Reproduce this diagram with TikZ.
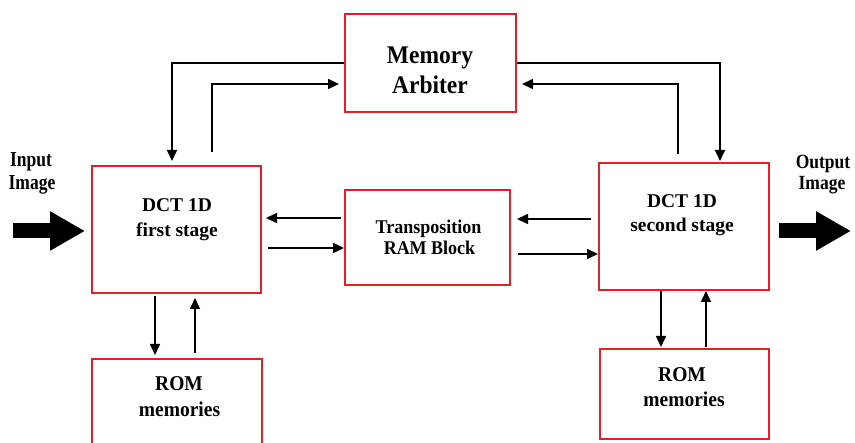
\documentclass[tikz,border=0pt]{standalone}
\usepackage{graphicx}
\usepackage{fontspec}
\setmainfont{Liberation Serif}
\usetikzlibrary{arrows.meta}
\definecolor{boxred}{RGB}{228,32,38}
\newcommand{\vstr}[2]{\scalebox{1}[#1]{#2}}
\begin{document}
\begin{tikzpicture}[x=1pt,y=-1pt,
  blk/.style={draw=boxred, line width=2pt, inner sep=0pt},
  arr/.style={line width=1.6pt, -{Triangle[length=11pt,width=10pt]}},
  big/.style={line width=15pt, -{Triangle[length=35pt,width=37pt]}},
  txt/.style={anchor=base, inner sep=0pt, font=\bfseries\fontsize{#1}{#1}\selectfont}]
\useasboundingbox (0,0) rectangle (855,443);

% boxes
\node[blk, minimum width=171pt, minimum height=98pt]  (arb)   at (430.5,63)   {};
\node[blk, minimum width=169pt, minimum height=127pt] (dct1)  at (176.5,229.5) {};
\node[blk, minimum width=165pt, minimum height=95pt]  (trans) at (427.5,237.5) {};
\node[blk, minimum width=170pt, minimum height=127pt] (dct2)  at (684,226.5)   {};
\node[blk, minimum width=170pt, minimum height=88pt]  (rom1)  at (177,403)     {};
\node[blk, minimum width=169pt, minimum height=90pt]  (rom2)  at (684.5,394)   {};

% texts
\node[txt=23.5] (arbA) at (430,64) {\vstr{1.08}{Memory}};
\node[txt=23.5] (arbB) at (430,94) {\vstr{1.08}{Arbiter}};
\node[txt=19.5] (d1A) at (177,212) {DCT 1D};
\node[txt=19.5] (d1B) at (177,237) {first stage};
\node[txt=18] (trA) at (428.5,234) {\vstr{1.08}{Transposition}};
\node[txt=18] (trB) at (429.5,255) {\vstr{1.08}{RAM Block}};
\node[txt=19.5] (d2A) at (682,208) {DCT 1D};
\node[txt=19.5] (d2B) at (682,232) {second stage};
\node[txt=19.5] (r1A) at (179,391) {\vstr{1.08}{ROM}};
\node[txt=19.5] (r1B) at (179.5,417) {\vstr{1.08}{memories}};
\node[txt=19.5] (r2A) at (682,382) {\vstr{1.08}{ROM}};
\node[txt=19.5] (r2B) at (684,407) {\vstr{1.08}{memories}};
\node[txt=17.5] (inA) at (31,167) {\vstr{1.22}{Input}};
\node[txt=17.5] (inB) at (32,190) {\vstr{1.22}{Image}};
\node[txt=17.5] (outA) at (823,169) {\vstr{1.15}{Output}};
\node[txt=17.5] (outB) at (822,190) {\vstr{1.15}{Image}};

% arbiter connections
\draw[arr, shorten >=4pt] (arb.west) -| ([xshift=-4.5pt]dct1.north);
\draw[arr, shorten >=5pt] ([xshift=35.5pt,yshift=13pt]dct1.north) |- ([yshift=-21pt]arb.west);
\draw[arr, shorten >=1pt] (arb.east) -| ([xshift=36pt]dct2.north);
\draw[arr, shorten >=5pt] ([xshift=-6pt,yshift=8pt]dct2.north) |- ([yshift=-21pt]arb.east);

% transposition connections
\coordinate (h1) at ([xshift=-3pt,yshift=19.5pt]trans.west);
\draw[arr, shorten >=4pt] (h1) -- (h1 -| dct1.east);
\coordinate (h2) at ([yshift=-10.5pt]trans.west);
\draw[arr, shorten <=6pt] (h2 -| dct1.east) -- (h2);
\coordinate (h3) at ([yshift=18.5pt]trans.east);
\draw[arr, shorten <=7pt, shorten >=6pt] (h3 -| dct2.west) -- (h3);
\coordinate (h4) at ([yshift=-16.5pt]trans.east);
\draw[arr, shorten <=7pt] (h4) -- (h4 -| dct2.west);

% ROM connections
\coordinate (v1) at ([xshift=-21.5pt]dct1.south);
\draw[arr, shorten <=2pt, shorten >=3pt] (v1) -- (v1 |- rom1.north);
\coordinate (v2) at ([xshift=18.5pt]dct1.south);
\draw[arr, shorten <=5pt, shorten >=4pt] (v2 |- rom1.north) -- (v2);
\coordinate (v3) at ([xshift=-23pt]dct2.south);
\draw[arr, shorten >=1pt] (v3) -- (v3 |- rom2.north);
\coordinate (v4) at ([xshift=22pt]dct2.south);
\draw[arr, shorten <=1pt] (v4 |- rom2.north) -- (v4);

% input / output
\coordinate (inS) at (13,231);
\draw[big, shorten >=6pt] (inS) -- (inS -| dct1.west);
\coordinate (outE) at (851,231);
\draw[big, shorten <=9pt] (outE -| dct2.east) -- (outE);
\end{tikzpicture}
\end{document}
